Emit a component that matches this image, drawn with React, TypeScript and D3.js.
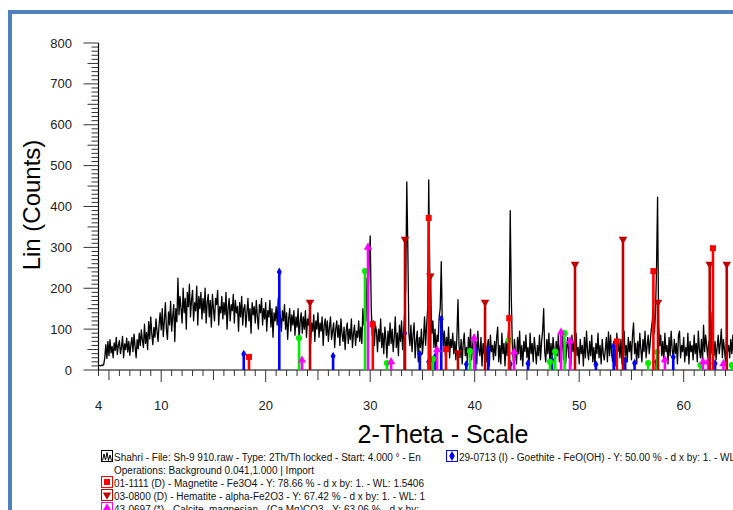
import * as d3 from "d3";

// raw scan: 2Th/Th locked, start 4.000 deg, step 0.1 deg (one row = 1 degree)
const scanStart = 4;
const scanStep = 0.1;
const counts = [
  12, 11, 10, 12, 11, 14, 30, 62, 28, 70,
  35, 74, 42, 58, 30, 66, 48, 80, 38, 60,
  72, 40, 56, 82, 30, 64, 50, 78, 44, 70,
  36, 62, 80, 45, 88, 58, 30, 74, 52, 90,
  60, 98, 72, 55, 112, 65, 92, 50, 118, 76,
  130, 88, 62, 104, 80, 125, 95, 70, 112, 140,
  98, 150, 82, 120, 165, 100, 75, 142, 110, 168,
  95, 130, 160, 70, 150, 118, 225, 135, 180, 150,
  115, 200, 140, 175, 100, 190, 155, 210, 130, 170,
  195, 120, 165, 145, 205, 110, 180, 150, 190, 125,
  175, 140, 200, 115, 165, 185, 130, 170, 105, 185,
  150, 120, 175, 160, 195, 110, 155, 140, 180, 125,
  165, 135, 190, 100, 150, 175, 120, 160, 145, 185,
  115, 170, 140, 155, 95, 165, 130, 180, 110, 150,
  160, 105, 140, 175, 120, 150, 90, 165, 135, 155,
  115, 170, 130, 100, 160, 140, 175, 110, 150, 125,
  165, 95, 145, 130, 170, 105, 150, 80, 140, 120,
  155, 110, 175, 160, 130, 95, 145, 120, 160, 100,
  140, 75, 125, 150, 95, 135, 110, 145, 85, 130,
  105, 150, 70, 120, 140, 90, 130, 100, 145, 80,
  125, 110, 140, 65, 115, 95, 135, 70, 120, 100,
  140, 80, 115, 95, 130, 60, 110, 125, 85, 120,
  70, 105, 130, 75, 95, 115, 55, 100, 120, 80,
  110, 60, 125, 90, 70, 105, 50, 95, 115, 65,
  100, 75, 125, 55, 90, 110, 60, 95, 80, 120,
  70, 105, 65, 150, 110, 140, 225, 120, 180, 260,
  328, 150, 85, 120, 60, 110, 95, 45, 100, 70,
  125, 55, 90, 40, 105, 75, 30, 95, 60, 115,
  65, 100, 45, 80, 130, 55, 90, 35, 110, 70,
  120, 50, 95, 140, 200, 460, 300, 90, 60, 110,
  45, 85, 115, 30, 70, 95, 20, 80, 55, 100,
  40, 75, 130, 60, 110, 150, 465, 245, 170, 90,
  120, 55, 100, 40, 85, 70, 130, 150, 265, 110,
  60, 95, 35, 80, 50, 105, 30, 75, 55, 90,
  40, 70, 25, 85, 172, 60, 30, 75, 15, 65,
  90, 35, 55, 20, 80, 45, 100, 25, 60, 85,
  30, 70, 15, 95, 50, 35, 80, 10, 65, 40,
  90, 20, 55, 75, 10, 85, 45, 60, 25, 70,
  35, 80, 105, 20, 60, 15, 90, 40, 65, 10,
  70, 35, 85, 120, 390, 180, 60, 20, 75, 45,
  15, 80, 40, 95, 25, 60, 10, 70, 45, 85,
  30, 55, 10, 90, 40, 65, 20, 80, 50, 15,
  60, 35, 85, 25, 70, 95, 150, 45, 20, 75,
  40, 90, 15, 65, 30, 80, 50, 10, 70, 35,
  85, 20, 60, 45, 95, 25, 70, 15, 55, 80,
  30, 65, 10, 85, 45, 70, 20, 90, 35, 55,
  15, 75, 40, 60, 10, 80, 30, 95, 45, 25,
  70, 35, 85, 20, 55, 10, 65, 40, 90, 30,
  60, 15, 75, 40, 25, 50, 80, 20, 93, 35,
  85, 40, 20, 70, 55, 10, 90, 45, 65, 30,
  75, 15, 50, 95, 35, 60, 20, 80, 45, 70,
  25, 85, 115, 40, 65, 15, 70, 30, 90, 50,
  20, 75, 45, 95, 30, 60, 85, 40, 70, 100,
  120, 165, 90, 140, 250, 423, 110, 60, 85, 35,
  70, 20, 90, 45, 60, 15, 80, 35, 95, 50,
  25, 75, 40, 65, 15, 85, 95, 30, 60, 45,
  80, 20, 55, 35, 90, 15, 70, 45, 60, 25,
  85, 40, 65, 20, 95, 50, 30, 75, 15, 110,
  45, 85, 60, 30, 70, 50, 142, 40, 90, 35,
  70, 25, 55, 85, 40, 65, 100, 30, 75, 50,
  20, 80, 45, 60, 30, 75, 40, 85, 25, 55,
  65,
];

// reference patterns (stick positions in 2-theta, heights in counts)
const goethitePos = [17.9, 21.3, 26.45, 33.3, 34.75, 35.6, 36.2, 36.8, 39.2, 40.05, 41.3, 43.4, 45.1, 47.4, 51.6, 53.3, 54.4, 55.3, 57.4, 59.0, 63.0];
const goethiteInt = [39, 240, 34, 90, 39, 20, 32, 125, 14, 50, 50, 15, 16, 24, 14, 59, 24, 17, 20, 32, 16];

const magnetitePos = [18.4, 30.25, 35.6, 37.25, 43.3, 53.6, 57.1, 62.8];
const magnetiteInt = [32, 112, 372, 51, 127, 70, 242, 298];

const hematitePos = [24.24, 33.33, 35.75, 38.4, 40.99, 49.6, 54.19, 57.54, 62.49, 64.12];
const hematiteInt = [166, 320, 230, 42, 166, 259, 320, 166, 259, 259];

const calcitePos = [23.47, 29.79, 32.0, 36.4, 39.95, 43.76, 48.26, 49.12, 58.2, 61.85, 62.33, 63.8];
const calciteInt = [24, 300, 20, 49, 78, 44, 92, 71, 25, 20, 20, 15];

const greenPos = [23.19, 29.5, 31.6, 36.0, 39.55, 43.28, 47.2, 47.7, 48.6, 56.6, 57.45, 61.6, 64.6];
const greenInt = [78, 242, 17, 27, 46, 73, 20, 45, 90, 17, 44, 12, 12];

const yTickLabels = [0, 100, 200, 300, 400, 500, 600, 700, 800];
const xTickLabels = [4, 10, 20, 30, 40, 50, 60];

const legendMain = "Shahri - File: Sh-9 910.raw - Type: 2Th/Th locked - Start: 4.000 ° - En";
const legendOps = "Operations: Background 0.041,1.000 | Import";
const legendGoethite = "29-0713 (I) - Goethite - FeO(OH) - Y: 50.00 % - d x by: 1. - WL: 1.5406";
const legendMagnetite = "01-1111 (D) - Magnetite - Fe3O4 - Y: 78.66 % - d x by: 1. - WL: 1.5406";
const legendHematite = "03-0800 (D) - Hematite - alpha-Fe2O3 - Y: 67.42 % - d x by: 1. - WL: 1";
const legendCalcite = "43-0697 (*) - Calcite, magnesian - (Ca,Mg)CO3 - Y: 63.06 % - d x by:";

const FONT = "'Liberation Sans', Arial, sans-serif";

export default function App() {
  const W = 733;
  const H = 510;

  const x = d3.scaleLinear().domain([4, 70]).range([98.5, 98.5 + 66 * 10.45]);
  const y = d3.scaleLinear().domain([0, 800]).range([370, 43]);
  const y0 = y(0);
  const x0 = x(4);

  const line = d3
    .line<number>()
    .x((d, i) => x(scanStart + i * scanStep))
    .y((d) => y(d));

  const phases = [
    { pos: goethitePos, int: goethiteInt, color: "#0000ff", symbol: d3.symbolDiamond, size: 22, rot: 0 },
    { pos: greenPos, int: greenInt, color: "#00ee00", symbol: d3.symbolCircle, size: 30, rot: 0 },
    { pos: calcitePos, int: calciteInt, color: "#ff00ff", symbol: d3.symbolTriangle, size: 30, rot: 0 },
    { pos: hematitePos, int: hematiteInt, color: "#c00000", symbol: d3.symbolTriangle, size: 32, rot: 180 },
    { pos: magnetitePos, int: magnetiteInt, color: "#ff0000", symbol: d3.symbolSquare, size: 36, rot: 0 },
  ];

  const xMinor = d3.range(4, 71, 1);
  const yMinor = d3.range(0, 801, 10);

  const legendRow = (i: number) => 457 + i * 13;

  return (
    <div style={{ position: "absolute", left: 0, top: 0, width: W, height: H, overflow: "hidden", background: "#fff" }}>
      <svg width={W} height={H} style={{ display: "block", fontFamily: FONT }}>
        {/* frame */}
        <rect x={10} y={12} width={W + 20} height={H + 20} fill="#fff" stroke="#4f81bd" strokeWidth={4} />

        {/* y axis */}
        <line x1={x0} x2={x0} y1={y0} y2={y(800)} stroke="#000" strokeWidth={1.2} />
        {yMinor.map((v) => {
          const len = v % 100 === 0 ? 15 : v % 50 === 0 ? 11 : 7;
          return <line key={"ym" + v} x1={x0 - len} x2={x0} y1={y(v)} y2={y(v)} stroke="#333" strokeWidth={1} />;
        })}
        {yTickLabels.map((v) => (
          <text key={"yl" + v} x={72} y={y(v)} dy="0.35em" textAnchor="end" fontSize={13} fill="#222">
            {v}
          </text>
        ))}
        <text transform={`translate(40,${205}) rotate(-90)`} textAnchor="middle" fontSize={24} fill="#000">
          Lin (Counts)
        </text>

        {/* x axis */}
        <line x1={x0} x2={W} y1={y0} y2={y0} stroke="#000" strokeWidth={1.2} />
        {xMinor.map((v) => {
          const len = v % 10 === 0 ? 12 : v % 5 === 0 ? 10 : 6;
          return <line key={"xm" + v} x1={x(v)} x2={x(v)} y1={y0} y2={y0 + len} stroke="#333" strokeWidth={1} />;
        })}
        {xTickLabels.map((v) => (
          <text key={"xl" + v} x={x(v)} y={410} textAnchor="middle" fontSize={13} fill="#222">
            {v}
          </text>
        ))}
        <text x={443} y={443} textAnchor="middle" fontSize={25} fill="#000">
          2-Theta - Scale
        </text>

        {/* measured pattern */}
        <path d={line(counts) || ""} fill="none" stroke="#000" strokeWidth={1.3} strokeLinejoin="round" />

        {/* reference sticks */}
        {phases.map((p, pi) => (
          <g key={"ph" + pi}>
            {p.pos.map((t, i) => (
              <g key={i}>
                <line x1={x(t)} x2={x(t)} y1={y0} y2={y(p.int[i])} stroke={p.color} strokeWidth={2.6} />
                <path
                  d={d3.symbol().type(p.symbol).size(p.size)() || ""}
                  transform={`translate(${x(t)},${y(p.int[i])}) rotate(${p.rot})`}
                  fill={p.color}
                />
              </g>
            ))}
          </g>
        ))}

        {/* legend */}
        <g fontSize={10} fill="#111">
          <rect x={101.5} y={legendRow(0) - 6.5} width={11} height={11} fill="#fff" stroke="#000" strokeWidth={1} />
          <polyline
            points={`102.5,${legendRow(0) + 3.5} 104,${legendRow(0) - 3} 105.5,${legendRow(0) + 3} 107,${legendRow(0) - 4.5} 108.5,${legendRow(0) + 3.5} 110,${legendRow(0) - 2} 111.5,${legendRow(0) + 3.5}`}
            fill="none"
            stroke="#000"
            strokeWidth={1}
          />
          <text x={114} y={legendRow(0)} dy="0.35em">{legendMain}</text>
          <text x={114} y={legendRow(1)} dy="0.35em">{legendOps}</text>

          <rect x={101.5} y={legendRow(2) - 6.5} width={11} height={11} fill="#fff" stroke="#ff0000" strokeWidth={1} />
          <rect x={104} y={legendRow(2) - 4} width={6} height={6} fill="#ff0000" />
          <text x={114} y={legendRow(2)} dy="0.35em">{legendMagnetite}</text>

          <rect x={101.5} y={legendRow(3) - 6.5} width={11} height={11} fill="#fff" stroke="#c00000" strokeWidth={1} />
          <path d={d3.symbol().type(d3.symbolTriangle).size(30)() || ""} transform={`translate(107,${legendRow(3) - 1}) rotate(180)`} fill="#c00000" />
          <text x={114} y={legendRow(3)} dy="0.35em">{legendHematite}</text>

          <rect x={101.5} y={legendRow(4) - 6.5} width={11} height={11} fill="#fff" stroke="#ff00ff" strokeWidth={1} />
          <path d={d3.symbol().type(d3.symbolTriangle).size(30)() || ""} transform={`translate(107,${legendRow(4) - 1})`} fill="#ff00ff" />
          <text x={114} y={legendRow(4)} dy="0.35em">{legendCalcite}</text>

          <rect x={446.5} y={legendRow(0) - 6.5} width={11} height={11} fill="#fff" stroke="#0000ff" strokeWidth={1} />
          <path d={d3.symbol().type(d3.symbolDiamond).size(28)() || ""} transform={`translate(452,${legendRow(0) - 1})`} fill="#0000ff" />
          <text x={459} y={legendRow(0)} dy="0.35em">{legendGoethite}</text>
        </g>
      </svg>
    </div>
  );
}
